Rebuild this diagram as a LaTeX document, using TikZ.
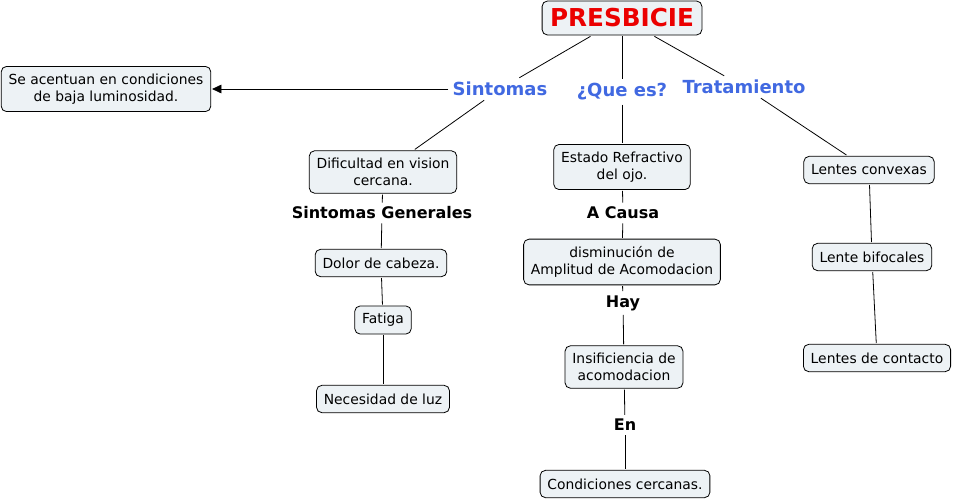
\documentclass[tikz,border=0pt]{standalone}
\usepackage{fontspec}
\setmainfont{DejaVu Sans}
\usetikzlibrary{arrows.meta}
\definecolor{cmapfill}{RGB}{237,242,245}
\definecolor{cmapblue}{RGB}{65,105,225}
\definecolor{cmapred}{RGB}{235,0,0}

\begin{document}
\begin{tikzpicture}[
    x=0.75pt, y=-0.75pt,
    concept/.style={draw, rounded corners=4pt, fill=cmapfill, align=center,
        font=\fontsize{10.4}{12.8}\selectfont, minimum height=20.5pt,
        inner xsep=5.5pt, inner ysep=5.5pt, outer sep=1pt, line width=0.6pt},
    topic/.style={font=\fontsize{13.5}{16}\selectfont\bfseries, text=cmapblue, inner sep=3pt},
    linkword/.style={font=\fontsize{12}{14}\selectfont\bfseries, inner sep=3pt},
    conn/.style={line width=0.6pt},
]
\useasboundingbox (0,0) rectangle (954,500);

% Root
\node[concept, font=\fontsize{18.5}{20}\selectfont\bfseries, text=cmapred,
    minimum height=25.5pt, inner xsep=6pt] (presbicie) at (622,18) {PRESBICIE};

% Main links
\node[topic] (sintomas) at (500,89) {Sintomas};
\node[topic] (quees) at (622,92) {¿Que es?};
\node[topic] (tratamiento) at (744,87) {Tratamiento};

% Sintomas branch
\node[concept] (acentuan) at (106,89) {Se acentuan en condiciones\\de baja luminosidad.};
\node[concept] (dificultad) at (383,172) {Dificultad en vision\\cercana.};
\node[linkword] (generales) at (382,213) {Sintomas Generales};
\node[concept] (dolor) at (381,263) {Dolor de cabeza.};
\node[concept] (fatiga) at (383,320) {Fatiga};
\node[concept] (necesidad) at (383,399) {Necesidad de luz};

% Que es branch
\node[concept] (estado) at (622,167) {Estado Refractivo\\del ojo.};
\node[linkword] (acausa) at (623,213) {A Causa};
\node[concept] (amplitud) at (622,262) {disminución de\\Amplitud de Acomodacion};
\node[linkword] (hay) at (623,303) {Hay};
\node[concept] (insuf) at (624,367) {Insificiencia de\\acomodacion};
\node[linkword] (en) at (625,425) {En};
\node[concept] (cercanas) at (625,484) {Condiciones cercanas.};

% Tratamiento branch
\node[concept] (convexas) at (869,170) {Lentes convexas};
\node[concept] (bifocales) at (872,257) {Lente bifocales};
\node[concept] (contacto) at (877,358) {Lentes de contacto};

% Connectors
\draw[conn] (presbicie) -- (sintomas);
\draw[conn] (presbicie) -- (quees);
\draw[conn] (presbicie) -- (tratamiento);
\draw[conn, -{Triangle[length=7pt, width=6.5pt]}] (sintomas) -- (acentuan);
\draw[conn] (sintomas) -- (dificultad);
\draw[conn] (dificultad) -- (generales);
\draw[conn] (generales) -- (dolor);
\draw[conn] (dolor) -- (fatiga);
\draw[conn] (fatiga) -- (necesidad);
\draw[conn] (quees) -- (estado);
\draw[conn] (estado) -- (acausa);
\draw[conn] (acausa) -- (amplitud);
\draw[conn] (amplitud) -- (hay);
\draw[conn] (hay) -- (insuf);
\draw[conn] (insuf) -- (en);
\draw[conn] (en) -- (cercanas);
\draw[conn] (tratamiento) -- (convexas);
\draw[conn] (convexas) -- (bifocales);
\draw[conn] (bifocales) -- (contacto);
\end{tikzpicture}
\end{document}
